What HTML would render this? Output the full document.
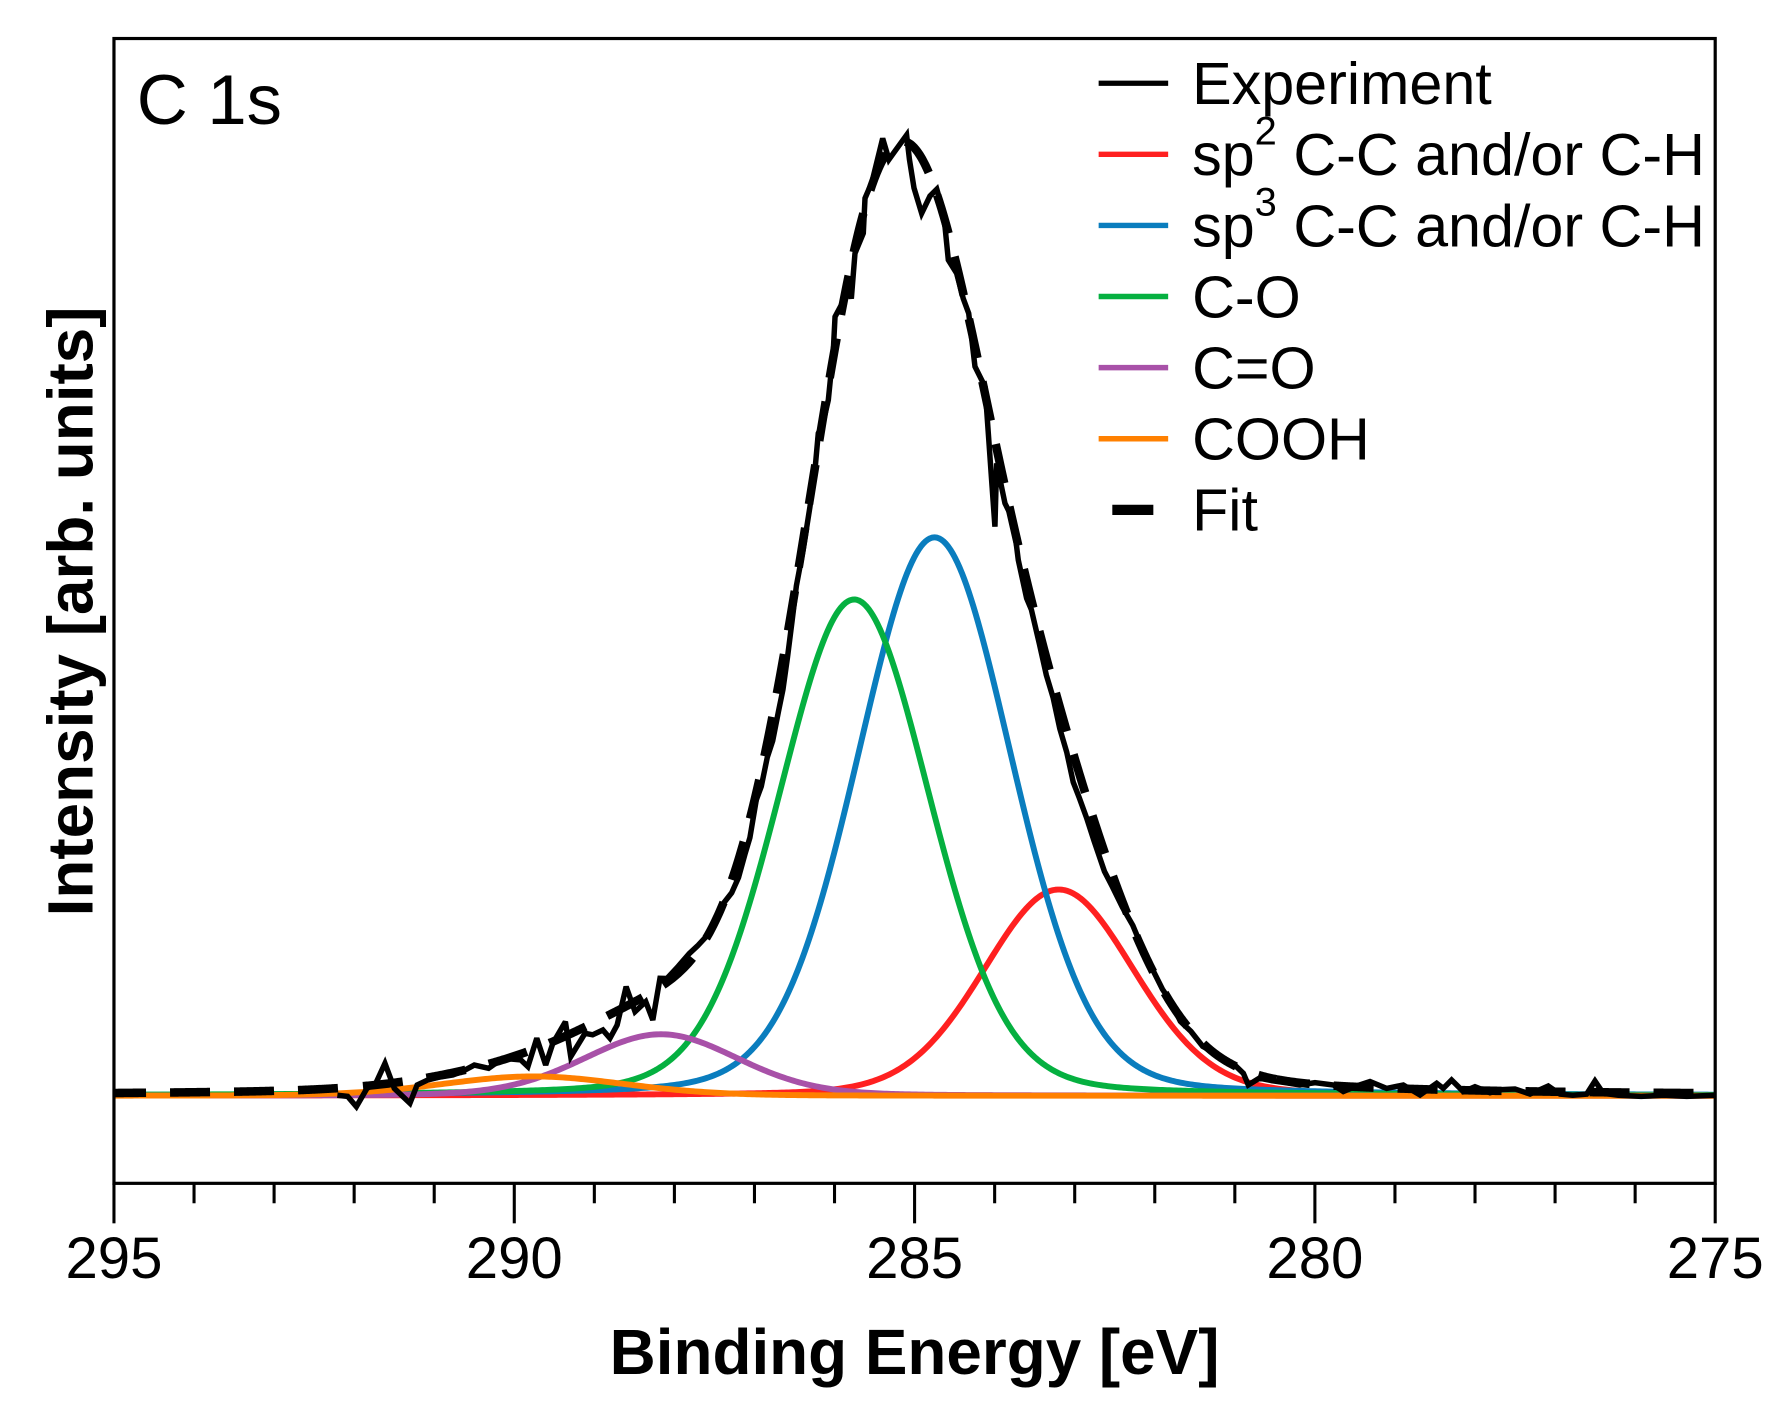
<!DOCTYPE html>
<html>
<head>
<meta charset="utf-8">
<style>
  html, body { margin: 0; padding: 0; background: #ffffff; }
  svg { display: block; }
  text { font-family: "Liberation Sans", Arial, Helvetica, sans-serif; fill: #000; }
</style>
</head>
<body>
<svg id="chart" xmlns="http://www.w3.org/2000/svg" width="1787" height="1414" viewBox="0 0 1568 1240.7" preserveAspectRatio="none">
  <rect x="0" y="0" width="1568" height="1240.7" fill="#ffffff"/>
  <defs>
    <clipPath id="plotclip">
      <rect x="100" y="33.8" width="1405" height="1004.5"/>
    </clipPath>
  </defs>

  <g id="series" clip-path="url(#plotclip)"></g>

  <!-- axis frame -->
  <rect x="100" y="33.8" width="1405" height="1004.5" fill="none" stroke="#000" stroke-width="2.8"/>

  <!-- ticks -->
  <g id="ticks" stroke="#000" stroke-width="2.7"></g>

  <!-- tick labels -->
  <g font-size="51" text-anchor="middle">
    <text x="100" y="1121.5">295</text>
    <text x="451.25" y="1121.5">290</text>
    <text x="802.5" y="1121.5">285</text>
    <text x="1153.75" y="1121.5">280</text>
    <text x="1505" y="1121.5">275</text>
  </g>

  <!-- axis titles -->
  <text x="802.5" y="1205.6" font-size="56" font-weight="bold" text-anchor="middle">Binding Energy [eV]</text>
  <text x="0" y="0" font-size="56" font-weight="bold" text-anchor="middle" transform="translate(81,536.5) rotate(-90)">Intensity [arb. units]</text>

  <!-- panel label -->
  <text x="120" y="109" font-size="62">C 1s</text>

  <!-- legend -->
  <g>
    <line x1="964" y1="73" x2="1025" y2="73" stroke="#000" stroke-width="4.6"/>
    <line x1="964" y1="135.4" x2="1025" y2="135.4" stroke="#ff2020" stroke-width="4.8"/>
    <line x1="964" y1="197.8" x2="1025" y2="197.8" stroke="#0a7dbe" stroke-width="4.8"/>
    <line x1="964" y1="260.2" x2="1025" y2="260.2" stroke="#05b040" stroke-width="4.8"/>
    <line x1="964" y1="322.6" x2="1025" y2="322.6" stroke="#a851a8" stroke-width="4.8"/>
    <line x1="964" y1="385" x2="1025" y2="385" stroke="#ff8000" stroke-width="4.8"/>
    <line x1="976" y1="447.4" x2="1012" y2="447.4" stroke="#000" stroke-width="9"/>
  </g>
  <g font-size="52">
    <text x="1046" y="91.3">Experiment</text>
    <text x="1046" y="153.7">sp<tspan font-size="35" dy="-27">2</tspan><tspan dy="27"> C-C and/or C-H</tspan></text>
    <text x="1046" y="216.1">sp<tspan font-size="35" dy="-27">3</tspan><tspan dy="27"> C-C and/or C-H</tspan></text>
    <text x="1046" y="278.5">C-O</text>
    <text x="1046" y="340.9">C=O</text>
    <text x="1046" y="403.3">COOH</text>
    <text x="1046" y="465.7">Fit</text>
  </g>
</svg>

<script>
(function(){
  var NS = "http://www.w3.org/2000/svg";
  var B = 961.5;
  var M = 0.15;
  var comps = [
    {c:929,   F:157, A:181,   Af:181,   col:'#ff2020'},
    {c:820,   F:160, A:490,   Af:497,   col:'#0a7dbe'},
    {c:749.5, F:156, A:435.5, Af:441,   col:'#05b040'},
    {c:580,   F:160, A:54,    Af:54,    col:'#a851a8'},
    {c:468,   F:190, A:17,    Af:17,    col:'#ff8000'}
  ];
  function pv(x, c, F){
    var t = (x - c) / F;
    var G = Math.exp(-4 * Math.LN2 * t * t);
    var L = 1 / (1 + 4 * t * t);
    return (1 - M) * G + M * L;
  }
  function fit(x){
    var s = 0;
    for (var i = 0; i < comps.length; i++) s += comps[i].Af * pv(x, comps[i].c, comps[i].F);
    return B - s;
  }
  function mkPath(d, attrs, parent){
    var p = document.createElementNS(NS, 'path');
    p.setAttribute('d', d);
    p.setAttribute('fill', 'none');
    for (var k in attrs) p.setAttribute(k, attrs[k]);
    parent.appendChild(p);
    return p;
  }
  var g = document.getElementById('series');

  // components
  for (var i = 0; i < comps.length; i++){
    var cp = comps[i];
    var d = '';
    for (var x = 96; x <= 1510; x += 2){
      var y = B - cp.A * pv(x, cp.c, cp.F);
      d += (d ? 'L' : 'M') + x.toFixed(1) + ' ' + y.toFixed(2);
    }
    mkPath(d, {stroke: cp.col, 'stroke-width': '5.2', 'stroke-linejoin': 'round'}, g);
  }

  // experiment
  var ex = [[296,961],[305,962],[312.7,971],[322,955],[330,950],[337.8,933],[346,955],[359.7,968],[366,952],[375.4,947.6],[386,945],[397.4,943.2],[406,940],[416.2,934.5],[428.7,937.4],[441.2,928.6],[456.9,930],[463.2,935.9],[471,911],[478.8,934.5],[485.1,915.4],[496.1,896.5],[500.8,927.2],[513.3,906.7],[520,908],[529,903.8],[535.2,911],[541.5,899.4],[549.4,865.7],[557.2,887.7],[566.6,878.9],[572.8,895],[579.1,858.4],[585.2,858.6],[595,848],[604.8,836.7],[612,830],[620.4,821],[626,812],[632.2,795.9],[642,783.4],[648,770],[653.8,749],[658,735],[663.6,701.9],[668,690],[673.3,664.3],[678,650],[683.2,623.6],[687,605],[691,576.6],[695,545],[698.8,513.9],[704.7,482.6],[710.7,444.6],[715.1,412.4],[718,380.2],[722,372],[726.8,351],[731.2,307.1],[732.7,277.9],[738,268],[744.3,251.5],[747,262],[750.2,222.3],[757.5,204.7],[759,174],[765,160],[774.5,121.4],[780,140],[785,133],[795.5,118.5],[798,140],[802,165],[808.7,187.2],[816,172],[822,166],[826,180],[829.2,198.9],[832.1,228.1],[839.4,239.8],[845.2,262],[850,275],[855.5,321.7],[864.3,339.3],[867.2,380.2],[870,420],[873,462.1],[874.5,406.5],[881.8,441.6],[889.1,456.3],[893.5,491.4],[900.8,525],[905,535],[912,565],[918.1,592.3],[924,612],[929.9,639.3],[936,660],[941.7,686.3],[947,700],[953.4,717.6],[960,738],[969.1,764.6],[976,778],[984.8,795.9],[994,812],[1004.3,836.7],[1012,852],[1020,868],[1028,880],[1035.7,896.2],[1045,905],[1055.3,918.1],[1068,925],[1082.7,933.8],[1091,941.8],[1095.3,952],[1105,946],[1115.8,948.2],[1128,950],[1140.7,952],[1153.8,950],[1170,952],[1178.7,957.8],[1190,953],[1202.1,949],[1216.7,955],[1231.3,952],[1246,960.8],[1260.6,950.5],[1266.4,955],[1273.7,947.6],[1284,957.8],[1294.2,953.5],[1307.4,958.8],[1318,956],[1329.3,955.5],[1342.5,960],[1358.5,952.9],[1368.8,960],[1380,961],[1392.2,960],[1399.5,948.5],[1406.8,959.3],[1420,961],[1440,962],[1460,961],[1480,962],[1505,961]];
  var de = '';
  for (var j = 0; j < ex.length; j++) de += (j ? 'L' : 'M') + ex[j][0] + ' ' + ex[j][1];
  mkPath(de, {stroke:'#000', 'stroke-width':'4.8', 'stroke-linejoin':'miter', 'stroke-miterlimit':'3'}, g);

  // fit (dashed), three pieces to control dash phase
  var P = 56.15, DA = '35.1 21.05';
  function fitPath(x0, x1, step){
    var d = '';
    for (var x = x0; x <= x1 + 1e-6; x += step){
      d += (d ? 'L' : 'M') + x.toFixed(2) + ' ' + fit(x).toFixed(2);
    }
    return d;
  }
  var pL = mkPath(fitPath(93.05, 300, 1), {stroke:'#000', 'stroke-width':'7.5', 'stroke-dasharray':DA, 'stroke-dashoffset':'0'}, g);
  var lenL = 206.95;
  try { lenL = pL.getTotalLength(); } catch(e) {}
  mkPath(fitPath(300, 1120, 1), {stroke:'#000', 'stroke-width':'7.5', 'stroke-dasharray':DA, 'stroke-dashoffset': String(lenL % P)}, g);
  var xc = 1120, xs = 1339;
  var off = ((xc - xs) % P + P) % P;
  mkPath(fitPath(1120, 1510, 1), {stroke:'#000', 'stroke-width':'7.5', 'stroke-dasharray':DA, 'stroke-dashoffset': String(off)}, g);

  // ticks
  var tg = document.getElementById('ticks');
  for (var e = 0; e <= 20; e++){
    var x = 100 + e * 70.25;
    var major = (e % 5 === 0);
    var l = document.createElementNS(NS, 'line');
    l.setAttribute('x1', x); l.setAttribute('x2', x);
    l.setAttribute('y1', 1038.3); l.setAttribute('y2', major ? 1073.4 : 1055.8);
    tg.appendChild(l);
  }
})();
</script>
</body>
</html>
